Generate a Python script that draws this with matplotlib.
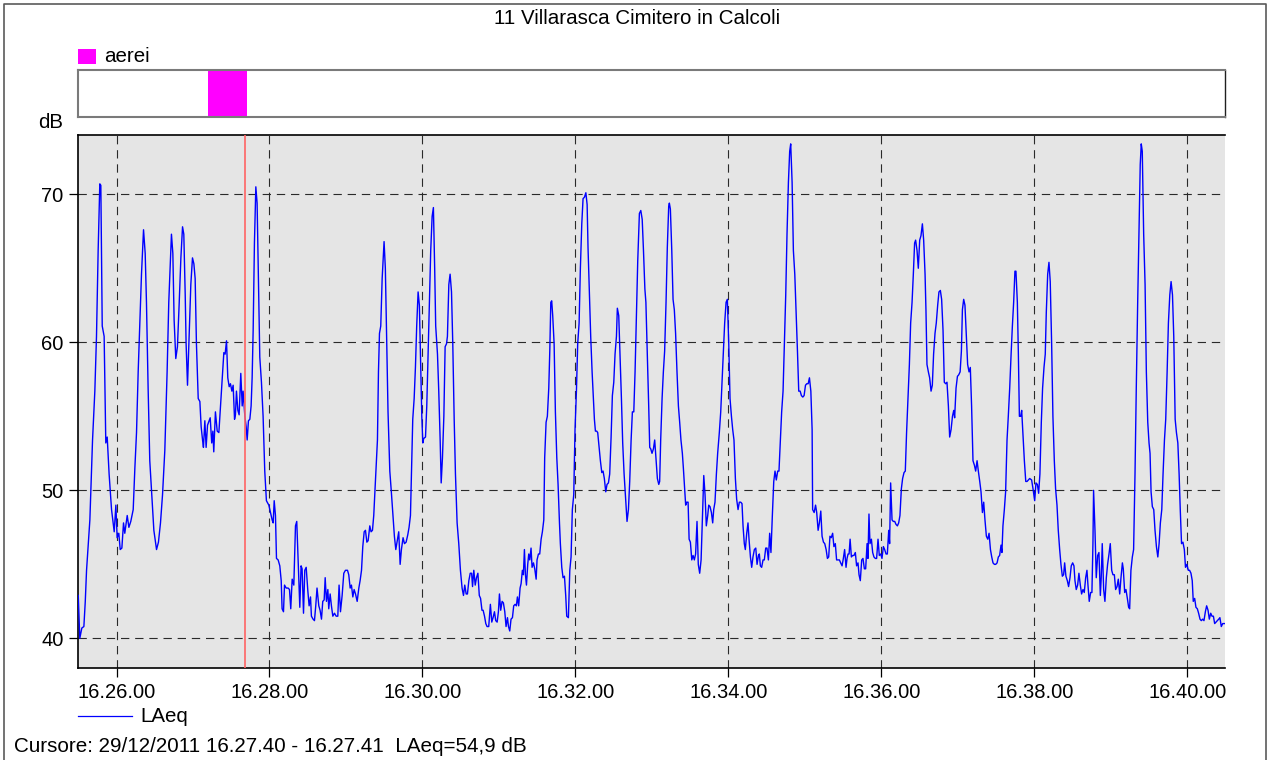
import matplotlib
matplotlib.use("Agg")
import matplotlib.pyplot as plt
import matplotlib.dates as mdates
from matplotlib.lines import Line2D
from matplotlib.patches import Rectangle
import pandas as pd

plt.rcParams['font.family'] = ['Liberation Sans', 'DejaVu Sans']
plt.rcParams['lines.scale_dashes'] = False

# ---------------- data ----------------
title = "11 Villarasca Cimitero in Calcoli"
start_time = "2011-12-29 16:25:30"
series_name = "LAeq"
event_name = "aerei"
event_start = "2011-12-29 16:27:12"
event_end = "2011-12-29 16:27:42"
cursor_time = "2011-12-29 16:27:40.5"
cursor_text = "Cursore: 29/12/2011 16.27.40 - 16.27.41  LAeq=54,9 dB"
y_ticks = [40, 50, 60, 70]

# seconds after 16:25:30
seconds = [
    0, 1.2, 2.8, 4.4, 5.5, 6.5, 9.1, 11.2, 13.0, 14.3, 15.6, 16.9, 17.7, 18.8, 20.3, 21.6, 22.7, 24.2, 26.1, 28.2,
    29.5, 30.5, 31.8, 32.9, 34.2, 35.5, 36.5, 38.4, 39.7, 41.2, 43.1, 44.4, 45.7, 47.0, 48.3, 49.6, 51.2, 52.5, 53.5, 54.8,
    56.1, 57.7, 59.3, 61.4, 62.9, 64.5, 66.1, 67.9, 69.7, 71.0, 73.1, 74.2, 75.2, 76.5, 77.8, 79.2, 80.5, 81.8, 82.8, 83.9,
    84.6, 85.7, 87.0, 88.3, 89.6, 90.7, 91.7, 92.7, 94.1, 95.4, 96.4, 97.5, 98.2, 99.3, 100.3, 101.4, 102.7, 103.5, 104.7, 105.6,
    106.3, 107.6, 109.0, 110.3, 111.6, 112.9, 114.2, 115.2, 116.3, 117.3, 118.4, 119.4, 120.5, 121.5, 122.6, 123.3, 124.1, 125.2, 126.2, 127.5,
    128.6, 129.3, 130.7, 131.7, 132.5, 133.5, 134.6, 135.6, 136.4, 137.2, 138.2, 139.3, 140.3, 141.4, 142.4, 143.7, 145.0, 146.3, 147.6,
    149.5, 150.8, 152.1, 152.9, 153.7, 154.7, 155.5, 156.8, 158.1, 159.2, 159.9, 161.0, 161.8, 163.1, 164.6, 165.7, 166.7, 167.8, 169.1, 170.4,
    171.4, 172.5, 173.8, 174.8, 175.6, 176.7, 177.7, 178.8, 180.1, 181.1, 182.2, 182.9, 184.2, 185.3, 186.3, 187.3, 188.7, 189.7, 190.8, 191.8,
    192.9, 193.7, 194.7, 195.8, 196.5, 197.6, 198.6, 199.7, 201.0, 202.3, 203.6, 204.6, 205.7, 207.0, 208.3, 209.6, 211.2, 212.2, 213.3, 214.3,
    215.4, 216.4, 217.5, 218.8, 220.1, 221.1, 222.2, 223.2, 224.3, 225.3, 226.4, 227.4, 228.7, 229.7, 230.8, 231.8, 232.6, 233.7, 234.7, 235.5,
    236.3, 237.3, 238.4, 239.9, 240.9, 242.0, 243.0, 244.4, 245.6, 246.7, 248.0, 249.1, 250.4, 251.4, 252.5, 253.5, 254.8, 255.9, 257.2, 258.5,
    259.5, 260.6, 261.4, 262.4, 263.5, 264.5, 265.5, 266.6, 267.6, 268.7, 269.5, 270.3, 271.0, 272.4, 273.4, 274.5, 275.5, 276.5, 277.6, 278.6,
    279.6, 280.4, 281.8, 282.8, 283.9, 284.7, 285.7, 286.8, 287.8, 288.9, 289.6, 290.7, 291.7, 292.8, 293.8, 294.9,
    295.9, 297.2, 298.5, 299.8, 301.1, 302.2, 303.2, 304.3, 305.3, 306.4, 307.5, 308.6, 309.3, 310.3, 311.4, 312.4, 313.5, 314.6, 315.6, 316.7,
    317.6, 318.7, 319.7, 320.7, 322.0, 323.3, 324.4, 325.4, 326.5, 327.5, 328.6, 329.6, 330.4, 331.4, 332.5, 333.5, 334.6, 335.6, 336.7, 337.5,
    338.5, 339.5, 340.6, 341.6, 342.7, 343.7, 344.5, 345.5, 346.6, 347.4, 348.4, 349.2, 350.0, 350.8, 351.6, 352.6, 353.4, 354.2, 355.2, 356.0,
    357.1, 358.1, 359.2, 359.9, 361.0, 362.0, 363.1, 364.1, 365.2, 365.9, 367.0, 368.0, 369.1, 369.9, 370.7, 371.4, 372.2, 373.3, 374.3, 375.4,
    376.4, 377.5, 378.2, 379.3, 380.3, 381.4, 382.4, 383.2, 384.5, 385.6, 386.6, 387.6, 388.7, 389.7, 390.8, 391.8, 392.9, 393.9, 395.0, 396.0,
    397.1, 398.2, 399.2, 399.9, 401.0, 402.0, 403.1, 404.1, 404.9, 405.7, 406.7, 407.5, 408.6, 409.6, 410.7, 411.7, 412.7, 413.8, 414.8, 415.9,
    416.9, 418.0, 419.0, 420.1, 421.1, 422.2, 422.9, 424.0, 425.0, 426.1, 427.1, 428.2, 429.2, 430.5, 431.6, 432.6, 433.7, 434.7, 435.8, 436.8,
    437.9, 438.9, 440.2, 441.3, 442.4, 443.4, 444.5, 445.3,
    446.5, 447.5, 448.3, 449.1, 450.1, 451.2, 452.2, 453.3, 454.3, 455.4, 456.1, 456.9, 458.0, 459.0, 460.0, 461.1, 462.1, 463.2, 463.7, 464.5,
    465.6, 466.6, 467.6, 468.6, 469.7, 470.8, 471.8, 472.8, 473.9, 474.7, 475.8, 476.5, 477.3, 478.4, 479.2, 480.2, 481.3, 482.3, 483.3, 484.3,
    485.4, 486.4, 487.5, 488.6, 489.6, 490.7, 491.7, 492.7, 493.8, 494.6, 495.6, 496.7, 497.7, 498.5, 499.5, 500.6, 501.6, 502.9, 504.0, 505.0,
    506.1, 507.1, 508.2, 509.2, 510.3, 511.3, 512.4, 513.4, 514.4, 515.5, 516.5, 517.6, 518.6, 519.7, 520.7, 521.5, 522.5, 523.3, 524.4, 525.4,
    526.2, 527.3, 528.3, 529.3, 530.4, 531.5, 532.5, 533.6, 534.3, 535.1, 536.1, 537.2, 538.2, 539.3, 540.3, 541.4, 542.4, 543.4, 544.5, 545.6,
    546.6, 547.6, 548.7, 549.7, 550.8, 551.8, 552.9, 553.9, 555.0, 556.0, 557.1, 558.1, 558.9, 560.0, 561.0, 562.1, 563.1, 564.2, 565.2, 566.3,
    567.3, 568.4, 569.4, 570.5, 571.5, 572.6, 573.6, 574.7, 575.7, 576.1, 577.3, 578.4, 579.3, 580.4, 581.4, 582.5, 583.5, 584.6, 585.6, 586.7,
    587.7, 588.7, 589.7, 590.7, 591.8, 592.8, 593.9, 594.9, 596.0,
    597.1, 598.1, 599.2, 600.2, 601.2, 602.3, 603.1, 603.9, 604.7, 605.5, 606.5, 607.5, 608.5, 609.6, 610.6, 611.7, 612.5, 613.5, 614.6, 615.6,
    616.7, 617.7, 618.8, 619.5, 620.3, 621.1, 622.2, 623.2, 624.2, 625.3, 626.3, 627.4, 628.4, 629.5, 630.5, 631.6, 632.6, 633.7, 634.7, 635.8,
    636.5, 637.3, 638.4, 639.4, 640.5, 641.5, 642.6, 643.6, 644.6, 645.7, 646.7, 647.8, 648.8, 649.8, 650.9, 652.0, 653.0, 654.1, 655.1, 656.1,
    656.9, 658.0, 659.0, 660.1, 661.1, 662.2, 663.2, 664.3, 665.0, 665.8, 666.9, 667.9, 669.0, 670.0, 671.0, 672.1, 673.1, 674.2, 675.2, 676.3,
    677.3, 678.4, 679.4, 680.5, 681.5, 682.6, 683.6, 684.7, 685.8, 686.8, 687.5, 688.6, 689.7, 690.7, 691.8, 692.8, 693.6, 694.6, 695.6, 696.7,
    697.7, 698.8, 699.8, 700.8, 701.9, 703.0, 704.0, 705.1, 706.1, 707.2, 708.2, 709.3, 710.3, 711.3, 712.4, 713.5, 714.5, 715.6, 716.6, 717.6,
    718.7, 719.7, 720.8, 721.8, 722.8, 723.9, 724.6, 725.4, 726.5, 727.5, 728.6, 729.6, 730.7, 731.8, 732.8, 733.8, 734.8, 735.6, 736.7, 737.5,
    738.3, 739.3, 740.1, 741.2, 742.2, 743.3, 744.3, 745.4, 746.4,
    747.9, 749.0, 750.3, 751.3, 752.4, 753.4, 754.4, 755.5, 756.5, 757.6, 758.6, 759.4, 760.5, 761.5, 762.5, 763.6, 764.6, 765.7, 766.7, 767.8,
    768.8, 769.9, 770.9, 772.0, 773.0, 773.8, 774.8, 775.9, 776.9, 778.0, 779.0, 780.1, 781.1, 781.9, 782.9, 784.0, 785.0, 786.1, 787.1, 788.2,
    789.2, 790.3, 791.3, 792.1, 793.1, 794.2, 795.2, 796.0, 796.5, 797.6, 798.6, 799.7, 800.7, 801.8, 802.5, 803.3, 804.4, 805.4, 806.5, 807.5,
    808.6, 809.6, 810.7, 811.7, 812.8, 813.8, 814.9, 815.9, 817.0, 818.0, 819.1, 819.8, 820.9, 821.9, 823.0, 824.0, 824.8, 825.8, 826.9, 827.9,
    829.0, 830.0, 831.1, 832.1, 833.1, 833.9, 834.7, 835.8, 836.9, 837.9, 839.0, 840.0, 840.8, 841.6, 842.6, 843.7, 844.7, 845.8, 846.9, 847.9,
    848.9, 850.0, 851.0, 852.1, 853.1, 854.2, 855.2, 856.3, 857.3, 858.4, 859.4, 860.5, 861.5, 862.6, 863.6, 864.5, 865.5, 866.6, 867.7, 868.6,
    869.7, 870.8, 871.8, 872.9, 873.9, 874.7, 875.8, 876.8, 877.9, 878.9, 880.0, 881.0, 882.1, 883.1, 884.2, 885.2, 886.3, 887.3, 888.4, 889.4,
    890.5, 891.5, 892.5, 893.6, 894.7, 895.6, 896.7, 897.8, 898.8, 899.8,
]

laeq = [
    42.9, 40.0, 40.7, 40.8, 42.5, 44.6, 48.0, 53.4, 56.7, 60.4, 66.2, 70.7, 70.6, 61.1, 60.4, 53.2, 53.6, 51.1, 48.7, 47.2,
    49.0, 46.8, 47.1, 46.0, 46.1, 47.8, 47.1, 48.3, 47.5, 47.9, 48.7, 51.5, 53.9, 58.0, 61.3, 64.6, 67.6, 66.0, 62.7, 56.9,
    52.0, 49.7, 47.3, 46.0, 46.5, 47.8, 49.7, 52.7, 58.0, 62.7, 67.3, 66.0, 61.5, 58.9, 59.7, 62.7, 65.7, 67.8, 67.3, 63.2,
    59.9, 57.1, 60.4, 63.9, 65.7, 65.3, 64.3, 59.9, 56.2, 56.0, 54.3, 53.4, 52.9, 54.7, 52.9, 54.4, 54.7, 54.9, 53.2, 54.0,
    52.6, 55.3, 54.0, 53.9, 55.7, 57.6, 59.3, 59.2, 60.1, 57.6, 57.0, 57.2, 56.7, 57.1, 54.8, 55.1, 56.7, 55.4, 55.1, 57.9,
    55.7, 56.7, 55.0, 54.3, 53.4, 54.7, 54.8, 55.7, 57.6, 60.8, 66.7, 70.5, 69.4, 63.9, 59.0, 57.3, 55.0, 51.3, 49.3,
    49.0, 48.5, 48.0, 47.8, 49.3, 48.3, 45.4, 45.3, 44.9, 43.9, 42.0, 41.8, 43.6, 43.4, 43.4, 43.3, 42.0, 44.0, 43.6, 47.6,
    47.9, 45.3, 42.1, 44.9, 44.7, 41.7, 44.6, 44.8, 43.2, 42.2, 42.8, 41.5, 41.3, 41.2, 42.2, 43.4, 42.2, 41.9, 41.3, 42.5,
    42.6, 44.1, 42.5, 43.3, 42.0, 43.0, 42.2, 41.5, 41.7, 41.5, 41.5, 43.6, 41.8, 42.9, 44.4, 44.6, 44.6, 44.3, 43.4, 43.6,
    42.8, 43.3, 43.0, 42.5, 43.4, 43.9, 44.6, 46.2, 47.2, 47.3, 46.5, 46.6, 47.6, 47.2, 47.3, 48.3, 49.7, 51.5, 53.4, 58.0,
    60.6, 61.1, 64.3, 66.8, 65.0, 59.9, 55.3, 51.3, 49.9, 48.5, 46.9, 46.0, 46.7, 47.2, 45.0, 46.0, 46.8, 46.4, 46.5, 47.0,
    47.5, 48.3, 51.3, 54.8, 56.2, 58.3, 61.1, 63.4, 62.5, 58.0, 55.0, 53.2, 53.5, 53.6, 55.7, 59.4, 62.7, 66.2, 68.5, 69.1,
    65.0, 61.1, 59.2, 56.7, 53.4, 50.5, 52.2, 55.0, 59.7, 59.9, 60.4, 63.9, 64.6, 63.4, 59.9, 54.8,
    51.1, 47.8, 46.4, 44.6, 43.4, 42.9, 43.6, 43.0, 43.0, 43.9, 44.4, 44.4, 43.5, 44.6, 43.6, 44.1, 44.4, 42.9, 42.7, 41.9,
    41.9, 41.5, 41.0, 40.8, 40.8, 42.3, 41.1, 41.4, 41.8, 41.2, 41.1, 41.8, 43.0, 41.9, 42.5, 42.4, 41.8, 40.8, 41.4, 40.8,
    40.5, 41.3, 41.4, 42.2, 42.3, 42.2, 42.8, 42.2, 43.4, 43.7, 44.6, 44.3, 46.0, 44.3, 43.6, 45.0, 45.7, 45.3, 46.1, 44.8,
    45.1, 44.7, 44.0, 45.3, 45.7, 45.7, 46.7, 47.2, 48.0, 52.2, 54.6, 55.0, 56.9, 59.4, 62.7, 62.8, 61.8, 59.9, 55.3, 52.2,
    50.4, 47.8, 46.4, 44.8, 44.1, 44.2, 42.9, 41.5, 41.4, 44.6, 45.5, 48.7, 49.7, 54.1, 56.7, 59.9, 61.3, 65.0, 68.0, 69.7,
    69.8, 70.1, 69.3, 66.4, 63.2, 60.4, 58.0, 56.2, 54.8, 54.0, 54.0, 53.9, 52.9, 52.0, 51.2, 51.3, 50.8, 49.9, 50.4, 50.5,
    51.1, 53.6, 56.4, 57.3, 59.2, 60.4, 62.3, 61.8, 59.2, 56.2, 53.2, 51.1, 49.7, 47.9, 48.7, 50.6, 53.4, 55.3, 55.3, 58.0,
    61.8, 65.5, 68.7, 68.9, 68.3, 66.2, 63.6, 62.7,
    59.0, 55.7, 52.9, 52.8, 52.5, 52.8, 53.4, 52.0, 50.8, 50.4, 50.6, 53.4, 56.2, 58.0, 59.4, 62.7, 66.4, 69.2, 69.4, 69.0,
    66.2, 62.9, 62.2, 60.6, 58.0, 55.7, 54.6, 53.4, 52.5, 51.5, 49.9, 49.0, 49.2, 49.2, 46.7, 46.5, 45.3, 45.6, 45.3, 45.7,
    47.9, 45.0, 44.4, 45.3, 48.0, 51.0, 49.7, 47.6, 48.3, 49.0, 48.9, 48.5, 47.8, 48.7, 49.2, 51.1, 52.5, 53.9, 55.3, 57.3,
    59.4, 61.3, 62.7, 62.9, 59.9, 56.2, 55.0, 54.1, 53.4, 50.8, 49.4, 48.7, 49.2, 49.2, 49.1, 47.6, 46.4, 46.0, 47.1, 47.8,
    46.7, 45.5, 44.8, 45.5, 46.0, 46.1, 45.0, 45.6, 45.7, 44.9, 44.8, 45.3, 45.3, 46.1, 46.1, 45.3, 47.1, 45.8, 48.3, 50.6,
    51.3, 50.7, 51.3, 51.3, 53.4, 55.3, 56.7, 59.9, 63.2, 67.3, 70.8, 72.9, 73.4, 70.8, 66.2, 64.6, 62.2, 59.4, 56.7, 56.7,
    56.4, 56.3, 56.4, 57.1, 57.2, 57.2, 57.6, 56.7, 54.1, 48.7, 48.5, 49.0, 48.5, 47.3, 47.8, 48.6, 46.9, 46.5, 46.4, 46.0,
    45.4, 45.5, 46.9, 46.8, 47.1, 46.2, 46.4, 45.3, 45.3,
    45.3, 45.1, 44.9, 45.4, 46.0, 44.8, 45.4, 45.7, 45.7, 46.7, 45.5, 45.6, 45.6, 45.8, 44.9, 45.1, 44.3, 43.9, 45.3, 45.4,
    44.7, 44.7, 46.4, 45.4, 48.4, 46.4, 46.7, 45.8, 45.5, 45.4, 45.4, 46.7, 45.6, 45.7, 45.4, 46.2, 46.0, 45.7, 45.7, 47.3,
    46.4, 50.5, 48.0, 47.9, 47.9, 47.7, 47.6, 47.8, 48.3, 50.1, 50.8, 51.2, 51.3, 53.9, 56.2, 58.5, 61.3, 62.7, 64.6, 66.7,
    66.9, 66.2, 65.0, 66.9, 67.2, 68.0, 66.9, 64.6, 62.2, 58.5, 58.0, 57.6, 56.7, 57.1, 59.2, 60.6, 61.3, 62.5, 63.4, 63.5,
    62.9, 60.8, 57.3, 57.2, 57.3, 55.7, 53.6, 54.1, 55.0, 55.4, 54.9, 56.9, 57.7, 57.8, 58.0, 59.4, 62.2, 62.9, 62.5, 60.4,
    58.5, 58.0, 58.3, 55.7, 52.0, 51.7, 51.3, 52.0, 51.3, 50.6, 49.9, 48.5, 49.2, 48.0, 46.9, 46.7, 47.1, 46.0, 45.5, 45.1,
    45.0, 45.0, 45.1, 45.5, 45.6, 46.3, 45.8, 47.6, 48.7, 49.9, 53.4, 55.0, 56.9, 59.2, 61.1, 62.7, 64.8, 64.8, 62.7, 59.2,
    55.0, 55.0, 55.4, 53.6, 52.0, 50.6, 50.6, 50.7, 50.8,
    50.7, 50.1, 49.3, 50.5, 50.4, 49.8, 51.1, 54.6, 56.9, 58.3, 59.2, 62.0, 64.6, 65.4, 64.1, 59.9, 55.0, 52.0, 50.1, 49.0,
    47.3, 46.0, 45.0, 44.2, 44.3, 45.1, 44.2, 43.9, 43.5, 44.1, 44.9, 45.1, 44.9, 43.9, 43.3, 43.6, 44.4, 43.6, 43.0, 43.3,
    43.1, 44.1, 44.6, 43.6, 42.5, 43.1, 43.1, 46.4, 50.0, 47.3, 44.1, 45.6, 45.8, 42.9, 44.1, 46.4, 43.3, 42.5, 44.1, 45.0,
    45.7, 46.4, 44.6, 44.3, 44.3, 43.3, 43.5, 44.0, 43.0, 44.1, 45.1, 44.7, 43.1, 43.3, 42.7, 42.1, 42.0, 44.6, 45.5, 46.0,
    51.1, 56.9, 62.7, 67.3, 72.0, 73.4, 72.9, 67.3, 63.9, 58.0, 54.6, 53.2, 52.5, 49.9, 48.9, 48.7, 47.3, 46.2, 45.5, 46.4,
    47.8, 48.7, 51.1, 53.4, 54.8, 58.0, 61.3, 63.2, 64.1, 63.2, 60.4, 54.8, 53.9, 53.2, 51.1, 48.7, 46.4, 46.5, 46.0, 44.8,
    45.0, 44.6, 44.6, 44.4, 43.9, 42.5, 42.7, 42.1, 42.0, 41.7, 41.3, 41.2, 41.3, 41.2, 41.8, 42.2, 41.9, 41.3, 41.7, 41.5,
    41.5, 41.0, 41.1, 41.2, 41.3, 41.4, 40.8, 41.0, 41.0, 41.0,
]

# ---------------- figure ----------------
W, H = 1269, 760
fig = plt.figure(figsize=(W / 100, H / 100), dpi=100, facecolor='white')


def fx(px):
    return px / W


def fy(py):
    return 1 - py / H


base = pd.Timestamp(start_time)
times = (base + pd.to_timedelta(seconds, unit='s')).to_pydatetime()
x_lo = (base + pd.Timedelta(seconds=-0.6)).to_pydatetime()
x_hi = (base + pd.Timedelta(seconds=899.6)).to_pydatetime()

ax_left, ax_right = 77.5, 1225
ax_top, ax_bottom = 135, 668
ax = fig.add_axes([fx(ax_left), fy(ax_bottom), fx(ax_right - ax_left), (ax_bottom - ax_top) / H])
ax.set_facecolor('#E5E5E5')

line, = ax.plot(times, laeq, color='#0000FF', lw=1.0, zorder=3)
ax.axvline(pd.Timestamp(cursor_time).to_pydatetime(), color='#FF6464', lw=1.2, zorder=4)

ax.set_xlim(x_lo, x_hi)
ax.set_ylim(38, 74)
ax.set_yticks(y_ticks)
ax.xaxis.set_major_locator(mdates.MinuteLocator(byminute=range(0, 60, 2)))
ax.xaxis.set_major_formatter(mdates.DateFormatter('%H.%M.%S'))
ax.grid(True, color='#2a2a2a', lw=0.8, linestyle=(0, (6.0, 4.2)))
ax.set_axisbelow(True)
ax.tick_params(axis='both', direction='out', length=6.5, width=0.9, labelsize=14.5, colors='black', pad=3.5)
ax.tick_params(axis='x', pad=4.5)
for s in ['left', 'bottom', 'top']:
    ax.spines[s].set_color('black')
    ax.spines[s].set_linewidth(1.2)
ax.spines['right'].set_visible(False)

# event band
band_top, band_bottom = 69.5, 117
bx = fig.add_axes([fx(ax_left), fy(band_bottom), fx(ax_right - ax_left), (band_bottom - band_top) / H])
bx.set_xlim(x_lo, x_hi)
bx.set_ylim(0, 1)
bx.axvspan(pd.Timestamp(event_start).to_pydatetime(), pd.Timestamp(event_end).to_pydatetime(),
           color='#FF00FF', lw=0)
bx.set_xticks([])
bx.set_yticks([])
for s in ['left', 'top', 'bottom']:
    bx.spines[s].set_color('#7a7a7a')
    bx.spines[s].set_linewidth(1.5)
bx.spines['right'].set_color('#202020')
bx.spines['right'].set_linewidth(1.0)

# texts
fig.text(fx(637), fy(18), title, ha='center', va='center', fontsize=14.8)
fig.text(fx(51), fy(123), 'dB', ha='center', va='center', fontsize=14.8)

# event legend
fig.add_artist(Rectangle((fx(78), fy(64)), fx(18), 15 / H, transform=fig.transFigure,
                         facecolor='#FF00FF', edgecolor='none'))
fig.text(fx(104), fy(57), event_name, ha='left', va='center', fontsize=14.8)

# series legend
fig.add_artist(Line2D([fx(78), fx(132)], [fy(716), fy(716)], transform=fig.transFigure,
                      color=line.get_color(), lw=0.9))
fig.text(fx(140), fy(716), series_name, ha='left', va='center', fontsize=14.8)

# cursor text
fig.text(fx(14), fy(746), cursor_text, ha='left', va='center', fontsize=14.9)

# outer frame
fig.add_artist(Line2D([fx(4), fx(4), fx(1266), fx(1266)], [0, fy(4), fy(4), 0],
                      transform=fig.transFigure, color='#5a5a5a', lw=1.2))

fig.savefig('out.png', dpi=100, facecolor='white')
